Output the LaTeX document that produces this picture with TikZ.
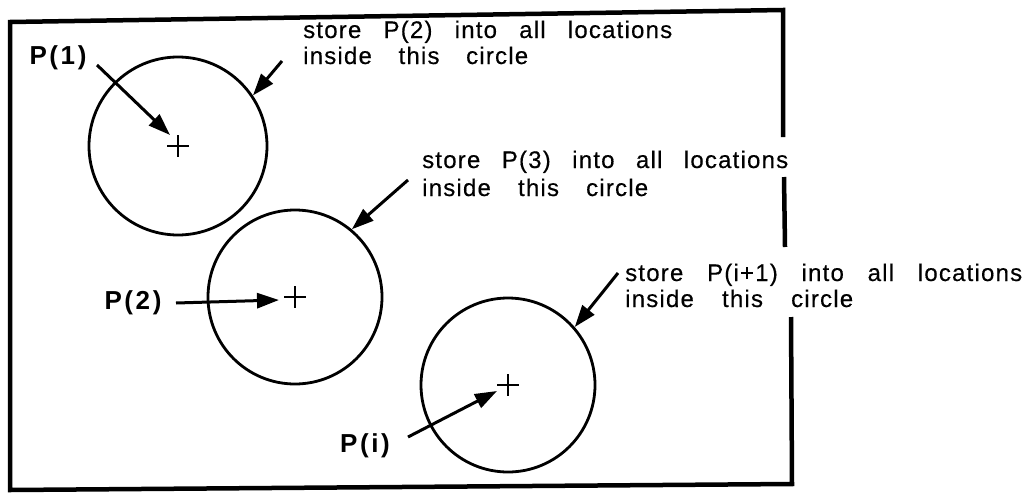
\documentclass[tikz,border=0pt]{standalone}
\usepackage{fontspec}
\setmainfont{Liberation Sans}
\newfontfamily\txt{Liberation Sans}[LetterSpace=5,FakeBold=0.4]
\newfontfamily\lbl{Liberation Sans}[LetterSpace=10]
\usetikzlibrary{arrows.meta,calc}
\begin{document}
\begin{tikzpicture}[x=1pt,y=-1pt,
  ring/.style={circle,draw,line width=2.8pt,inner sep=0pt},
  frame/.style={line width=4.5pt},
  arr/.style={line width=3pt,-{Triangle[length=22pt,width=15pt]}},
  pl/.style={line width=2.8pt},
  note/.style={anchor=base west,inner sep=0pt,font=\txt\fontsize{24}{28}\selectfont},
  plab/.style={inner sep=0pt,font=\lbl\bfseries\fontsize{26}{30}\selectfont}]
\useasboundingbox (0,0) rectangle (1030,498);
% frame
\draw[frame] (783,137) -- (783,10) -- (10,22) -- (10,490) -- (792,484) -- (791,317);
\draw[frame] (784,177) -- (785,247);
% circles
\node[ring,minimum size=178pt] (c1) at (178,146) {};
\node[ring,minimum size=174pt] (c2) at (295,297) {};
\node[ring,minimum size=174pt] (c3) at (508,385) {};
% plus signs
\foreach \c in {c1,c2,c3}{
  \draw[pl] (\c.center) +(-11,0) -- +(11,0);
  \draw[pl] (\c.center) +(0,-11) -- +(0,11);
}
% labels
\node[plab] (p1) at (58,58) {P(1)};
\node[plab] (p2) at (133,303) {P(2)};
\node[plab] (pi) at (365,446) {P(i)};
% notes
\node[note] (n1a) at (303,38) {\makebox[369pt][s]{store P(2) into all locations}};
\node[note] (n1b) at (303,64) {\makebox[225pt][s]{inside this circle}};
\node[note] (n2a) at (422,168) {\makebox[366pt][s]{store P(3) into all locations}};
\node[note] (n2b) at (422,196) {\makebox[226pt][s]{inside this circle}};
\node[note] (n3a) at (625,281) {\makebox[397pt][s]{store P(i+1) into all locations}};
\node[note] (n3b) at (625,307) {\makebox[228pt][s]{inside this circle}};
% connector ends
\coordinate (p1t) at (97,65);
\coordinate (p1h) at (170,135);
\coordinate (p2t) at (176,303);
\coordinate (p2h) at (279,300);
\coordinate (pit) at (408,437);
\coordinate (pih) at (497,391);
\coordinate (n1t) at (282,61);
\coordinate (n2t) at (408,180);
\coordinate (n3t) at (618,273);
% arrows
\draw[arr] (p1t) -- (p1h);
\draw[arr] (p2t) -- (p2h);
\draw[arr] (pit) -- (pih);
\draw[arr] (n1t) -- (c1.34);
\draw[arr] (n2t) -- (c2.50);
\draw[arr] (n3t) -- (c3.41);
\end{tikzpicture}
\end{document}
